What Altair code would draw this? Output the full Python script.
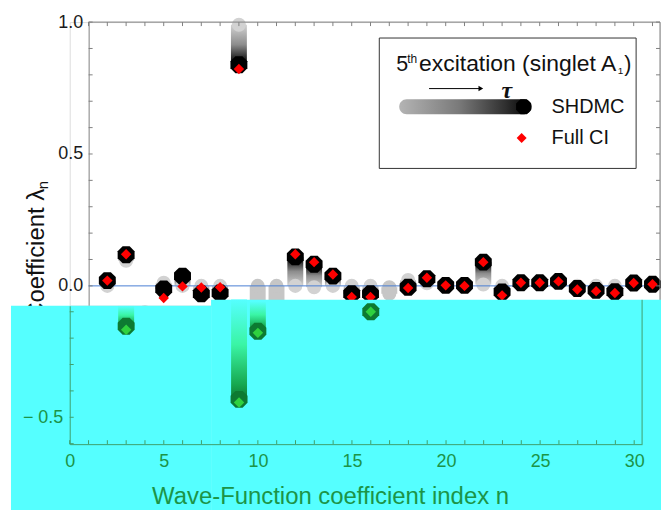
import altair as alt
import pandas as pd

# ---------------- data ----------------
# upper panel: SHDMC trajectories (first -> last tau) and Full CI values
n_idx = [2, 3, 5, 6, 7, 8, 9, 12, 13, 14, 15, 16, 18, 19, 20, 21, 22, 23, 24, 25, 26, 27, 28, 29, 30, 31]
shdmc_start = [0.0, 0.095, 0.012, 0.0, 0.0, 0.0, 0.99, 0.0, -0.005, 0.0, 0.0, 0.0, 0.022, 0.01,
               0.002, 0.002, 0.005, 0.0, 0.012, 0.012, 0.017, 0.0, 0.0, 0.0, 0.011, 0.006]
shdmc_final = [0.02, 0.118, -0.012, 0.037, -0.03, -0.027, 0.838, 0.11, 0.082, 0.037, -0.03, -0.03,
               -0.005, 0.027, 0.002, 0.002, 0.09, -0.023, 0.012, 0.012, 0.017, -0.01, -0.017, -0.022,
               0.011, 0.006]
full_ci = [0.02, 0.12, -0.046, -0.002, -0.006, -0.005, 0.822, 0.12, 0.09, 0.043, -0.042, -0.042,
           -0.008, 0.031, 0.002, 0.0, 0.09, -0.036, 0.012, 0.012, 0.017, -0.014, -0.02, -0.027,
           0.011, 0.006]
# grey-only trajectories (no converged point visible)
n_gray = [4, 10, 11, 17]
gray_top = [-0.1, 0.0, 0.0, -0.005]
gray_bottom = [-0.12, -0.1, -0.1, -0.03]
# lower (cyan) panel
n_low = [3, 9, 10, 16]
low_start = [-0.078, -0.054, -0.06, -0.1]
low_final = [-0.155, -0.432, -0.174, -0.1]
low_ci = [-0.168, -0.444, -0.18, -0.1]
# ticks
up_yticks = [0.0, 0.1, 0.2, 0.3, 0.4, 0.5, 0.6, 0.7, 0.8, 0.9, 1.0]
up_xticks = [1, 2, 3, 4, 5, 6, 7, 8, 9, 10, 11, 12, 13, 14, 15, 16, 17, 18, 19, 20, 21, 22, 23, 24,
             25, 26, 27, 28, 29, 30, 31]
lo_yticks = [-0.1, -0.2, -0.3, -0.4, -0.5, -0.6]
lo_xticks = [0, 1, 2, 3, 4, 5, 6, 7, 8, 9, 10, 11, 12, 13, 14, 15, 16, 17, 18, 19, 20, 21, 22, 23,
             24, 25, 26, 27, 28, 29, 30]
lo_xlabels = [0, 5, 10, 15, 20, 25, 30]

up = pd.DataFrame({'n': n_idx, 'start': shdmc_start, 'final': shdmc_final, 'ci': full_ci})
gray = pd.DataFrame({'n': n_gray, 'top': gray_top, 'bottom': gray_bottom})
low = pd.DataFrame({'n': n_low, 'start': low_start, 'final': low_final, 'ci': low_ci})
one = pd.DataFrame({'k': [0]})

FONT = 'Liberation Sans'
GREEN_TXT = '#1c9447'
GREEN_LINE = '#3f9f6c'
CYAN = '#55ffff'
FRAME = '#808080'
OCT = "M-0.414,-1L0.414,-1L1,-0.414L1,0.414L0.414,1L-0.414,1L-1,0.414L-1,-0.414Z"


def grad(colors, offsets, x1=0, y1=0, x2=0, y2=1):
    return alt.LinearGradient(
        gradient='linear',
        stops=[alt.GradientStop(offset=o, color=c) for o, c in zip(offsets, colors)],
        x1=x1, y1=y1, x2=x2, y2=y2)


gray_cols = ['#d2d2d2', '#8c8c8c', '#202020', '#000000']
gray_offs = [0, 0.5, 0.85, 1]
g_down = grad(gray_cols, gray_offs, y1=0, y2=1)
g_up = grad(gray_cols, gray_offs, y1=1, y2=0)
g_leg = grad(['#b4b4b4', '#7a7a7a', '#303030', '#000000'], [0, 0.45, 0.8, 1], x1=0, x2=1, y1=0, y2=0)
g_green = grad([CYAN, '#3af5a5', '#16a850', '#0d7a32'], [0, 0.45, 0.85, 1], y1=0, y2=1)

# ---------------- upper view ----------------
W_UP, H_UP = 593, 285
xs_up = alt.Scale(domain=[0, 31.4], nice=False, zero=False, padding=0)
ys_up = alt.Scale(domain=[-0.0755, 1.0], nice=False, zero=False, padding=0)
yax_up = alt.Axis(values=[0.0, 0.5, 1.0], format='.1f', offset=-19, ticks=False, grid=False,
                  domainColor=FRAME, labelFontSize=18, labelFont=FONT, labelColor='#1a1a1a',
                  labelPadding=6, labelFlush=False, title=None)


def XU(f='n'):
    return alt.X(f, type='quantitative', scale=xs_up, axis=None)


def YU(f):
    return alt.Y(f, type='quantitative', scale=ys_up, axis=yax_up)


bu = alt.Chart(up)
trail_down = bu.transform_filter('datum.start > datum.final').mark_bar(size=16, color=g_down).encode(
    x=XU(), y=YU('start'), y2='final')
trail_up = bu.transform_filter('datum.start < datum.final').mark_bar(size=16, color=g_up).encode(
    x=XU(), y=YU('start'), y2='final')
start_pts = bu.mark_point(shape='circle', filled=True, size=200, color='#d2d2d2', opacity=1).encode(
    x=XU(), y=YU('start'))
bg = alt.Chart(gray)
gray_bar = bg.mark_bar(size=16, color='#c6c6c6').encode(x=XU(), y=YU('top'), y2='bottom')
gray_pts_t = bg.mark_point(shape='circle', filled=True, size=200, color='#c6c6c6', opacity=1).encode(
    x=XU(), y=YU('top'))
gray_pts_b = bg.mark_point(shape='circle', filled=True, size=200, color='#c6c6c6', opacity=1).encode(
    x=XU(), y=YU('bottom'))
zero_line = alt.Chart(one).mark_rule(color='#4a7fd4', strokeWidth=1).encode(
    x=alt.value(19), x2=alt.value(W_UP),
    y=alt.Y(datum=0, type='quantitative', scale=ys_up, axis=yax_up))
end_pts = bu.mark_point(shape=OCT, filled=True, size=289, color='black', opacity=1).encode(
    x=XU(), y=YU('final'))
ci_pts = bu.mark_point(shape='diamond', filled=True, size=110, color='#ff0000', opacity=1).encode(
    x=XU(), y=YU('ci'))

# frame and inward ticks
top_line = alt.Chart(one).mark_rule(color=FRAME).encode(
    x=alt.value(19), x2=alt.value(W_UP), y=alt.value(0))
right_line = alt.Chart(one).mark_rule(color=FRAME).encode(
    x=alt.value(W_UP), y=alt.value(0), y2=alt.value(H_UP))
top_ticks = alt.Chart(pd.DataFrame({'t': up_xticks})).mark_rule(color=FRAME).encode(
    x=XU('t'), y=alt.value(0), y2=alt.value(4))
left_ticks = alt.Chart(pd.DataFrame({'v': up_yticks})).mark_rule(color=FRAME).encode(
    x=alt.value(19), x2=alt.value(23), y=YU('v'))
right_ticks = alt.Chart(pd.DataFrame({'v': up_yticks})).mark_rule(color=FRAME).encode(
    x=alt.value(W_UP), x2=alt.value(W_UP - 4), y=YU('v'))


def txt(s, x, y, size=20, align='left', baseline='middle', **kw):
    props = dict(text=s, fontSize=size, align=align, baseline=baseline, color='#111111')
    props.setdefault('font', FONT)
    props.update(kw)
    return alt.Chart(one).mark_text(**props).encode(x=alt.value(x), y=alt.value(y))


# legend
leg_box = alt.Chart(one).mark_rect(fill='white', stroke='#333333', strokeWidth=1).encode(
    x=alt.value(311), x2=alt.value(569), y=alt.value(16), y2=alt.value(147))
leg_bar = alt.Chart(one).mark_rect(color=g_leg, cornerRadius=7.5).encode(
    x=alt.value(331), x2=alt.value(464), y=alt.value(77.5), y2=alt.value(92.5))
leg_end = alt.Chart(one).mark_point(shape=OCT, filled=True, size=230, color='black', opacity=1).encode(
    x=alt.value(456), y=alt.value(85))
leg_arrow = alt.Chart(one).mark_rule(color='black', strokeWidth=1).encode(
    x=alt.value(361), x2=alt.value(412), y=alt.value(66.8))
leg_head = alt.Chart(one).mark_point(shape='triangle-right', filled=True, size=30, color='black',
                                     opacity=1).encode(x=alt.value(413), y=alt.value(66.8))
leg_diam = alt.Chart(one).mark_point(shape='diamond', filled=True, size=100, color='#ff0000',
                                     opacity=1).encode(x=alt.value(454), y=alt.value(116.5))
leg_texts = [
    txt('5', 328, 48.8, 21.5, baseline='alphabetic'),
    txt('th', 339, 41, 12, baseline='alphabetic'),
    txt('excitation (singlet A', 351, 48.8, 23, baseline='alphabetic'),
    txt('1', 550.5, 52, 10, baseline='alphabetic'),
    txt(')', 557, 48.8, 21.5, baseline='alphabetic'),
    txt('τ', 439, 76.5, 24, align='center', baseline='alphabetic', font='Liberation Serif',
        fontStyle='italic', fontWeight='bold'),
    txt('SHDMC', 484, 85, 20),
    txt('Full CI', 484, 116.5, 20),
]
ytitle = txt('Coefficient λ', -26, 167.5, 24, align='right', baseline='alphabetic', angle=270)
ytitle_sub = txt('n', -22, 159.5, 15, align='right', baseline='alphabetic', angle=270)

upper = alt.layer(
    trail_down, trail_up, start_pts, gray_bar, gray_pts_t, gray_pts_b, zero_line, end_pts, ci_pts,
    top_line, right_line, top_ticks, left_ticks, right_ticks,
    leg_box, leg_bar, leg_end, leg_arrow, leg_head, leg_diam, *leg_texts, ytitle, ytitle_sub
).properties(width=W_UP, height=H_UP)

# ---------------- lower (cyan) view ----------------
W_LO, H_LO = 575, 139
xs_lo = alt.Scale(domain=[0, 30.42], nice=False, zero=False, padding=0)
ys_lo = alt.Scale(domain=[-0.6019, -0.0774], nice=False, zero=False, padding=0)
xax_lo = alt.Axis(values=lo_xlabels, format='d', ticks=False, grid=False, domainColor=GREEN_LINE,
                  labelColor=GREEN_TXT, labelFontSize=18, labelFont=FONT, labelPadding=8,
                  labelFlush=False,
                  title='Wave-Function coefficient index n', titleColor=GREEN_TXT, titleFontSize=24,
                  titleFont=FONT, titleFontWeight='normal', titleX=261.5, titleY=53,
                  titleBaseline='middle', titleAlign='center', zindex=1)
yax_lo = alt.Axis(values=[-0.5], labelExpr="'\u2212 0.5'", ticks=False, grid=False,
                  domainColor=GREEN_LINE, labelColor=GREEN_TXT, labelFontSize=18, labelFont=FONT,
                  labelPadding=7, labelFlush=False, title=None, zindex=1)


def XL(f='n'):
    return alt.X(f, type='quantitative', scale=xs_lo, axis=xax_lo)


def YL(f):
    return alt.Y(f, type='quantitative', scale=ys_lo, axis=yax_lo)


cyan1 = alt.Chart(one).mark_rect(color=CYAN).encode(
    x=alt.value(-59), x2=alt.value(142), y=alt.value(0), y2=alt.value(206))
cyan2 = alt.Chart(one).mark_rect(color=CYAN).encode(
    x=alt.value(142), x2=alt.value(594), y=alt.value(-6), y2=alt.value(206))
lo_right = alt.Chart(one).mark_rule(color=GREEN_LINE).encode(
    x=alt.value(W_LO), y=alt.value(-6), y2=alt.value(H_LO))
lo_lticks = alt.Chart(pd.DataFrame({'v': lo_yticks})).mark_rule(color=GREEN_LINE).encode(
    x=alt.value(0), x2=alt.value(4), y=YL('v'))
lo_bticks = alt.Chart(pd.DataFrame({'t': lo_xticks})).mark_rule(color=GREEN_LINE).encode(
    x=XL('t'), y=alt.value(H_LO), y2=alt.value(H_LO - 4))
bl = alt.Chart(low)
lo_trail = bl.transform_filter('datum.start > datum.final').mark_bar(size=16, color=g_green).encode(
    x=XL(), y=YL('start'), y2='final')
lo_end = bl.mark_point(shape=OCT, filled=True, size=289, color='#0d7a32', opacity=1).encode(
    x=XL(), y=YL('final'))
lo_ci = bl.mark_point(shape='diamond', filled=True, size=110, color='#2fd13f', opacity=1).encode(
    x=XL(), y=YL('ci'))

lower = alt.layer(
    cyan1, cyan2, lo_right, lo_lticks, lo_bticks, lo_trail, lo_end, lo_ci
).properties(width=W_LO, height=H_LO)

chart = alt.vconcat(upper, lower, spacing=0, bounds='flush').properties(
    padding={'left': 2, 'top': 3, 'right': 0, 'bottom': 0}
).configure_view(stroke=None).configure(background='white')

chart.save("out.html", embed_options={"renderer": "svg", "actions": False})
